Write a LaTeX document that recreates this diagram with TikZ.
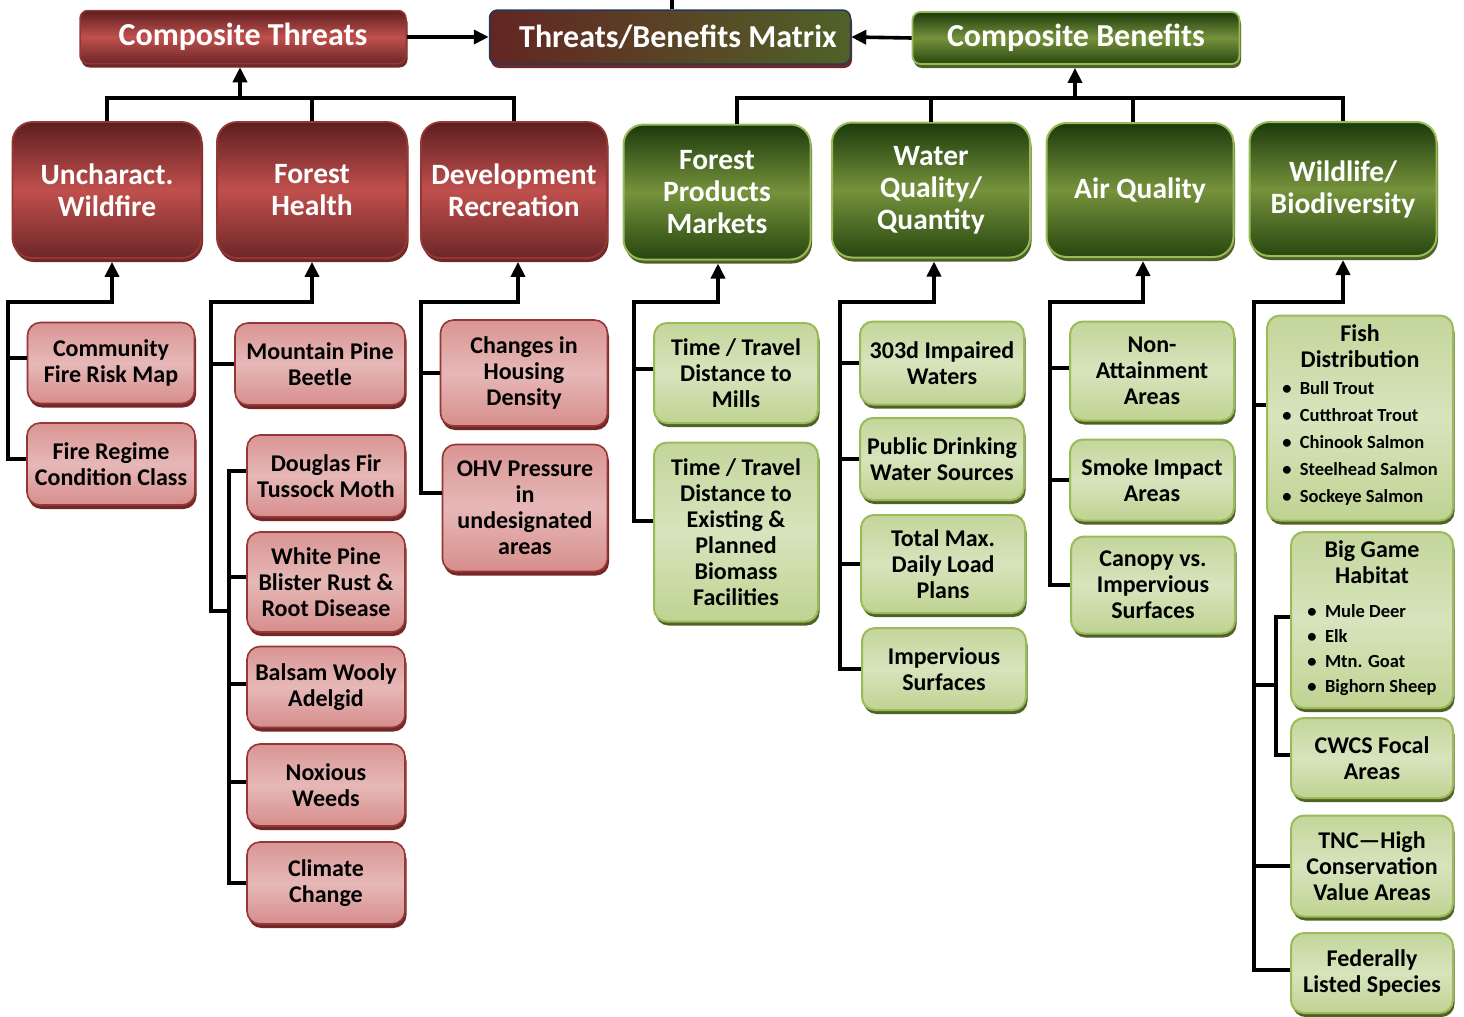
\documentclass[tikz,border=0pt]{standalone}
\usepackage{fontspec}
\setmainfont{Carlito}[BoldFont={Carlito Bold}]
\usetikzlibrary{arrows.meta}
\definecolor{tTop}{HTML}{5E1E20}
\definecolor{tMid}{HTML}{C0504D}
\definecolor{tBot}{HTML}{6E2628}
\definecolor{tBrd}{HTML}{953735}
\definecolor{tShd}{HTML}{722826}
\definecolor{lTTop}{HTML}{D99593}
\definecolor{lTMid}{HTML}{E6B8B7}
\definecolor{lTBot}{HTML}{D68E8C}
\definecolor{bTop}{HTML}{1B3A0B}
\definecolor{bMid}{HTML}{76923C}
\definecolor{bBot}{HTML}{27470F}
\definecolor{bBrd}{HTML}{9BBB59}
\definecolor{bShd}{HTML}{4F6228}
\definecolor{lBTop}{HTML}{C3D69B}
\definecolor{lBMid}{HTML}{D7E4BD}
\definecolor{lBBot}{HTML}{BFD392}
\definecolor{mxL}{HTML}{632523}
\definecolor{mxR}{HTML}{4F6228}
\definecolor{mxBrd}{HTML}{1F3A5C}
\tikzset{
  conn/.style={line width=3.6pt, line join=miter, draw=black},
  arr/.style={conn, -{Triangle[length=15pt,width=14pt]}, shorten >=3pt},
  shad/.style={preaction={fill=#1, draw=none, transform canvas={xshift=1.5pt,yshift=-4pt}}},
  grad/.style n args={3}{preaction={draw=none, top color=#1, bottom color=#3, middle color=#2}},
  topT/.style={shad=tShd, grad={tTop}{tMid}{tBot}, draw=tBrd, line width=1.5pt, rounded corners=8pt,
    align=center, inner sep=1pt, text=white, font=\bfseries\fontsize{32}{34}\selectfont},
  topB/.style={shad=bShd, grad={bTop}{bMid}{bBot}, draw=bBrd, line width=1.8pt, rounded corners=8pt,
    align=center, inner sep=1pt, text=white, font=\bfseries\fontsize{32}{34}\selectfont},
  mxbox/.style={shad=tShd, preaction={draw=none, left color=mxL, right color=mxR}, draw=mxBrd, line width=1.5pt,
    rounded corners=8pt, align=center, inner sep=1pt, text=white, font=\bfseries\fontsize{32}{34}\selectfont},
  catT/.style={shad=tShd, grad={tTop}{tMid}{tBot}, draw=tBrd, line width=1.8pt, rounded corners=20pt,
    align=center, inner sep=1pt, text=white, font=\bfseries\fontsize{29.5}{32}\selectfont},
  catB/.style={shad=bShd, grad={bTop}{bMid}{bBot}, draw=bBrd, line width=2pt, rounded corners=20pt,
    align=center, inner sep=1pt, text=white, font=\bfseries\fontsize{29.5}{32}\selectfont},
  leafT/.style={shad=tShd, grad={lTTop}{lTMid}{lTBot}, draw=tBrd, line width=1.6pt, rounded corners=13pt,
    align=center, inner sep=1pt, text=black, font=\bfseries\fontsize{24}{26}\selectfont},
  leafB/.style={shad=bShd, grad={lBTop}{lBMid}{lBBot}, draw=bBrd, line width=2pt, rounded corners=13pt,
    align=center, inner sep=1pt, text=black, font=\bfseries\fontsize{24}{26}\selectfont},
}
\begin{document}
\begin{tikzpicture}[x=1pt,y=-1pt]
\useasboundingbox[fill=white] (0,0) rectangle (1464,1017);
% top row
\node[topT, minimum width=326pt, minimum height=53pt] (ct) at (243,37) {Composite Threats};
\node[mxbox, minimum width=361pt, minimum height=54pt] (mx) at (670,37) {\hspace*{16pt}Threats/Benefits Matrix};
\node[topB, minimum width=327pt, minimum height=52pt] (cb) at (1076,38) {Composite Benefits};
% categories
\node[catT, minimum width=189pt, minimum height=136pt] (uw) at (107,190) {Uncharact.\\Wildfire};
\node[catT, minimum width=190pt, minimum height=136pt] (fh) at (312,190) {Forest\\Health};
\node[catT, minimum width=186pt, minimum height=136pt] (dr) at (514,190) {Development\\Recreation};
\node[catB, minimum width=187pt, minimum height=135pt] (fp) at (717,192) {Forest\\Products\\Markets};
\node[catB, minimum width=198pt, minimum height=135pt] (wq) at (931,190) {Water\\Quality/\\Quantity};
\node[catB, minimum width=187pt, minimum height=134pt] (aq) at (1140,190) {Air Quality};
\node[catB, minimum width=187pt, minimum height=134pt] (wb) at (1343,189) {Wildlife/\\Biodiversity};
% threat leaves
\node[leafT, minimum width=167pt, minimum height=81pt] (cf) at (111,363) {Community\\Fire Risk Map};
\node[leafT, minimum width=168pt, minimum height=82pt] (fr) at (111,464) {Fire Regime\\Condition Class};
\node[leafT, minimum width=170pt, minimum height=82pt] (mp) at (320,364) {Mountain Pine\\Beetle};
\node[leafT, minimum width=158pt, minimum height=82pt] (df) at (326,476) {Douglas Fir\\Tussock Moth};
\node[leafT, minimum width=158pt, minimum height=100pt] (wp) at (326,582) {White Pine\\Blister Rust \&\\Root Disease};
\node[leafT, minimum width=158pt, minimum height=81pt] (bw) at (326,687) {Balsam Wooly\\Adelgid};
\node[leafT, minimum width=158pt, minimum height=82pt] (nw) at (326,785) {Noxious\\Weeds};
\node[leafT, minimum width=158pt, minimum height=82pt] (cc) at (326,883) {Climate\\Change};
\node[leafT, minimum width=167pt, minimum height=106pt] (ch) at (524,373) {Changes in\\Housing\\Density};
\node[leafT, minimum width=165pt, minimum height=127pt] (oh) at (525,508) {OHV Pressure\\in\\undesignated\\areas};
% benefit leaves
\node[leafB, minimum width=164pt, minimum height=100pt] (tm) at (736,373) {Time / Travel\\Distance to\\Mills};
\node[leafB, minimum width=164pt, minimum height=179pt] (tbio) at (736,532) {Time / Travel\\Distance to\\Existing \&\\Planned\\Biomass\\Facilities};
\node[leafB, minimum width=164pt, minimum height=83pt] (iw) at (942,363) {303d Impaired\\Waters};
\node[leafB, minimum width=164pt, minimum height=82pt] (pd) at (942,459) {Public Drinking\\Water Sources};
\node[leafB, minimum width=164pt, minimum height=98pt] (tx) at (943,564) {Total Max.\\Daily Load\\Plans};
\node[leafB, minimum width=164pt, minimum height=82pt] (is) at (944,669) {Impervious\\Surfaces};
\node[leafB, minimum width=164pt, minimum height=99pt] (na) at (1152,371) {Non-\\Attainment\\Areas};
\node[leafB, minimum width=164pt, minimum height=81pt] (sm) at (1152,480) {Smoke Impact\\Areas};
\node[leafB, minimum width=164pt, minimum height=97pt] (cv) at (1153,585) {Canopy vs.\\Impervious\\Surfaces};
\node[leafB, minimum width=186pt, minimum height=205pt] (fd) at (1360,418) {Fish\\Distribution\\[1pt]{\fontsize{18.5}{27}\selectfont\begin{tabular}[t]{@{}l@{}}\textbullet\ \ Bull Trout\\\textbullet\ \ Cutthroat Trout\\\textbullet\ \ Chinook Salmon\\\textbullet\ \ Steelhead Salmon\\\textbullet\ \ Sockeye Salmon\end{tabular}}};
\node[leafB, minimum width=162pt, minimum height=176pt] (bg) at (1372,620) {Big Game\\Habitat\\[8pt]{\fontsize{18.5}{25}\selectfont\begin{tabular}[t]{@{}l@{}}\textbullet\ \ Mule Deer\\\textbullet\ \ Elk\\\textbullet\ \ Mtn. Goat\\\textbullet\ \ Bighorn Sheep\end{tabular}}};
\node[leafB, minimum width=162pt, minimum height=80pt] (cw) at (1372,758) {CWCS Focal\\Areas};
\node[leafB, minimum width=162pt, minimum height=101pt] (tn) at (1372,866) {TNC—High\\Conservation\\Value Areas};
\node[leafB, minimum width=162pt, minimum height=80pt] (fl) at (1372,973) {Federally\\Listed Species};
% top connectors
\draw[arr, shorten >=0pt] (ct.east) -- (mx.west);
\draw[arr, shorten >=0pt] (cb.west) -- (mx.east);
\draw[conn] ([xshift=2pt]mx.north) -- ++(0,-14);
% threat bus
\coordinate (tbus) at (240,98);
\draw[conn] (uw.north) |- (tbus) -| (dr.north);
\draw[conn] (fh.north) -- (fh.north |- tbus);
\draw[arr] (tbus) -- (tbus |- ct.south);
% benefit bus
\coordinate (bbus) at (1075,98);
\draw[conn] ([xshift=20pt]fp.north) |- (wb.north |- bbus) -- (wb.north);
\draw[conn] (wq.north) -- (wq.north |- bbus);
\draw[conn] ([xshift=-7pt]aq.north) -- ([xshift=-7pt]aq.north |- bbus);
\draw[arr] (bbus) -- (bbus |- cb.south);
% Uncharact. Wildfire
\coordinate (uwj) at (112,302); \coordinate (uwv) at (8,302);
\draw[arr] ([yshift=5pt]fr.west) -| (uwv) -- (uwj) -- (uwj |- uw.south);
\draw[conn] ([yshift=5pt]uwv |- cf.west) -- ([yshift=5pt]cf.west);
% Forest Health
\coordinate (fhj) at (312,302); \coordinate (fhv) at (211,302); \coordinate (fhs) at (229,611);
\draw[arr] (fhs) -- (fhv |- fhs) -- (fhv) -- (fhj) -- (fhj |- fh.south);
\draw[conn] (fhv |- mp.west) -- (mp.west);
\draw[conn] ([yshift=5pt]df.west) -| (fhs) |- (cc.west);
\draw[conn] ([yshift=5pt]fhs |- wp.west) -- ([yshift=5pt]wp.west);
\draw[conn] ([yshift=3pt]fhs |- bw.west) -- ([yshift=3pt]bw.west);
\draw[conn] ([yshift=3pt]fhs |- nw.west) -- ([yshift=3pt]nw.west);
% Development Recreation
\coordinate (drj) at (518,302); \coordinate (drv) at (421,302);
\draw[arr] ([yshift=15pt]oh.west) -| (drv) -- (drj) -- (drj |- dr.south);
\draw[conn] (drv |- ch.west) -- (ch.west);
% Forest Products
\coordinate (fpj) at (718,302); \coordinate (fpv) at (634,302);
\draw[arr] ([yshift=11pt]tbio.west) -| (fpv) -- (fpj) -- (fpj |- fp.south);
\draw[conn] ([yshift=4pt]fpv |- tm.west) -- ([yshift=4pt]tm.west);
% Water
\coordinate (wqj) at (934,302); \coordinate (wqv) at (840,302);
\draw[arr] (is.west) -| (wqv) -- (wqj) -- (wqj |- wq.south);
\draw[conn] (wqv |- iw.west) -- (iw.west);
\draw[conn] (wqv |- pd.west) -- (pd.west);
\draw[conn] (wqv |- tx.west) -- (tx.west);
% Air
\coordinate (aqj) at (1143,302); \coordinate (aqv) at (1050,302);
\draw[arr] (cv.west) -| (aqv) -- (aqj) -- (aqj |- aq.south);
\draw[conn] ([yshift=3pt]aqv |- na.west) -- ([yshift=3pt]na.west);
\draw[conn] (aqv |- sm.west) -- (sm.west);
% Wildlife
\coordinate (wbj) at (1343,302); \coordinate (wbv) at (1254,302); \coordinate (wbs) at (1276,685);
\draw[arr] ([yshift=3pt]fl.west) -| (wbv) -- (wbj) -- (wbj |- wb.south);
\draw[conn] ([yshift=13pt]wbv |- fd.west) -- ([yshift=13pt]fd.west);
\draw[conn] (wbv |- tn.west) -- (tn.west);
\draw[conn] (wbv |- wbs) -- (wbs);
\draw[conn] ([yshift=3pt]bg.west) -| (wbs) |- ([yshift=3pt]cw.west);
\end{tikzpicture}
\end{document}
